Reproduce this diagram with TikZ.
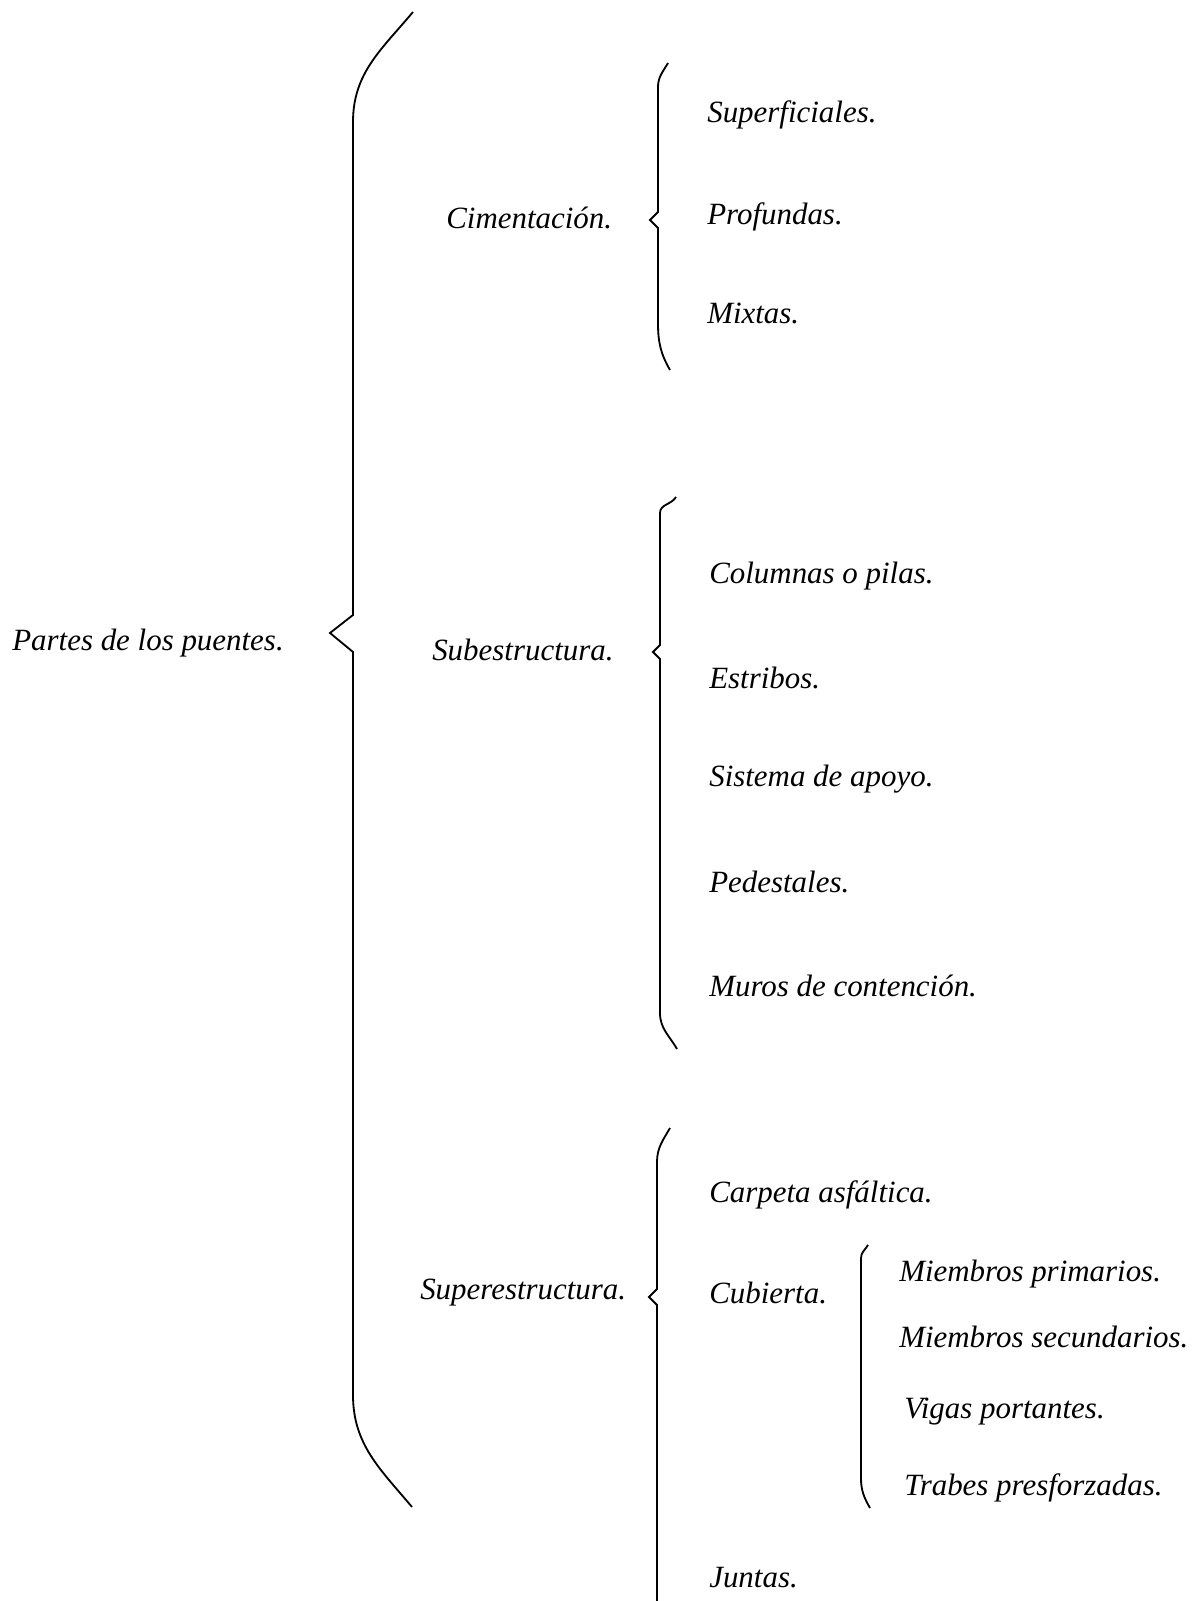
\documentclass[tikz,border=0pt]{standalone}
\usepackage{fontspec}
\setmainfont{Liberation Serif}
\tikzset{
  llave/.style={line width=1.3pt, line join=miter},
  rama/.style={anchor=west, inner sep=0pt, font=\itshape\fontsize{22}{26}\selectfont},
}
\begin{document}
\begin{tikzpicture}
  \useasboundingbox (0,0) rectangle (29.9,40.025);
  \node[rama] (partes) at (0.3,23.95) {Partes de los puentes.};
  \draw[llave] (10.325,39.725) to [out=230,in=90] (8.825,36.975) -- (8.825,24.65)
    -- (8.25,24.2) -- (8.825,23.725) -- (8.825,5.15) to [out=-90,in=130] (10.3,2.35);

  \node[rama] (ciment) at (11.15,34.575) {Cimentación.};
  \draw[llave] (16.7,38.45) to [out=240,in=90] (16.45,37.85) -- (16.45,34.725)
    -- (16.25,34.525) -- (16.45,34.325) -- (16.45,31.95) to [out=-90,in=120] (16.75,30.775);
  \node[rama] (superf) at (17.675,37.15) {Superficiales.};
  \node[rama] (profund) at (17.675,34.6) {Profundas.};
  \node[rama] (mixtas) at (17.675,32.2) {Mixtas.};

  \node[rama] (subest) at (10.8,23.775) {Subestructura.};
  \draw[llave] (16.9,27.6) to [out=240,in=90] (16.5,27.2) -- (16.5,23.9)
    -- (16.325,23.725) -- (16.5,23.55) -- (16.5,14.7) to [out=-90,in=120] (16.925,13.8);
  \node[rama] (columnas) at (17.725,25.625) {Columnas o pilas.};
  \node[rama] (estribos) at (17.725,23.075) {Estribos.};
  \node[rama] (sistema) at (17.725,20.55) {Sistema de apoyo.};
  \node[rama] (pedest) at (17.725,17.975) {Pedestales.};
  \node[rama] (muros) at (17.725,15.375) {Muros de contención.};

  \node[rama] (superest) at (10.5,7.7) {Superestructura.};
  \draw[llave] (16.75,11.825) to [out=240,in=90] (16.425,10.975) -- (16.425,7.8)
    -- (16.225,7.6) -- (16.425,7.4) -- (16.425,0);
  \node[rama] (carpeta) at (17.725,10.15) {Carpeta asfáltica.};
  \node[rama] (cubierta) at (17.725,7.7) {Cubierta.};
  \node[rama] (juntas) at (17.725,0.575) {Juntas.};

  \draw[llave] (21.7,8.9) to [out=240,in=90] (21.525,8.575) -- (21.525,3.075)
    to [out=-90,in=120] (21.75,2.325);
  \node[rama] (mprim) at (22.475,8.175) {Miembros primarios.};
  \node[rama] (msec) at (22.475,6.6) {Miembros secundarios.};
  \node[rama] (vigas) at (22.6,4.725) {Vigas portantes.};
  \node[rama] (trabes) at (22.6,2.825) {Trabes presforzadas.};
\end{tikzpicture}
\end{document}
